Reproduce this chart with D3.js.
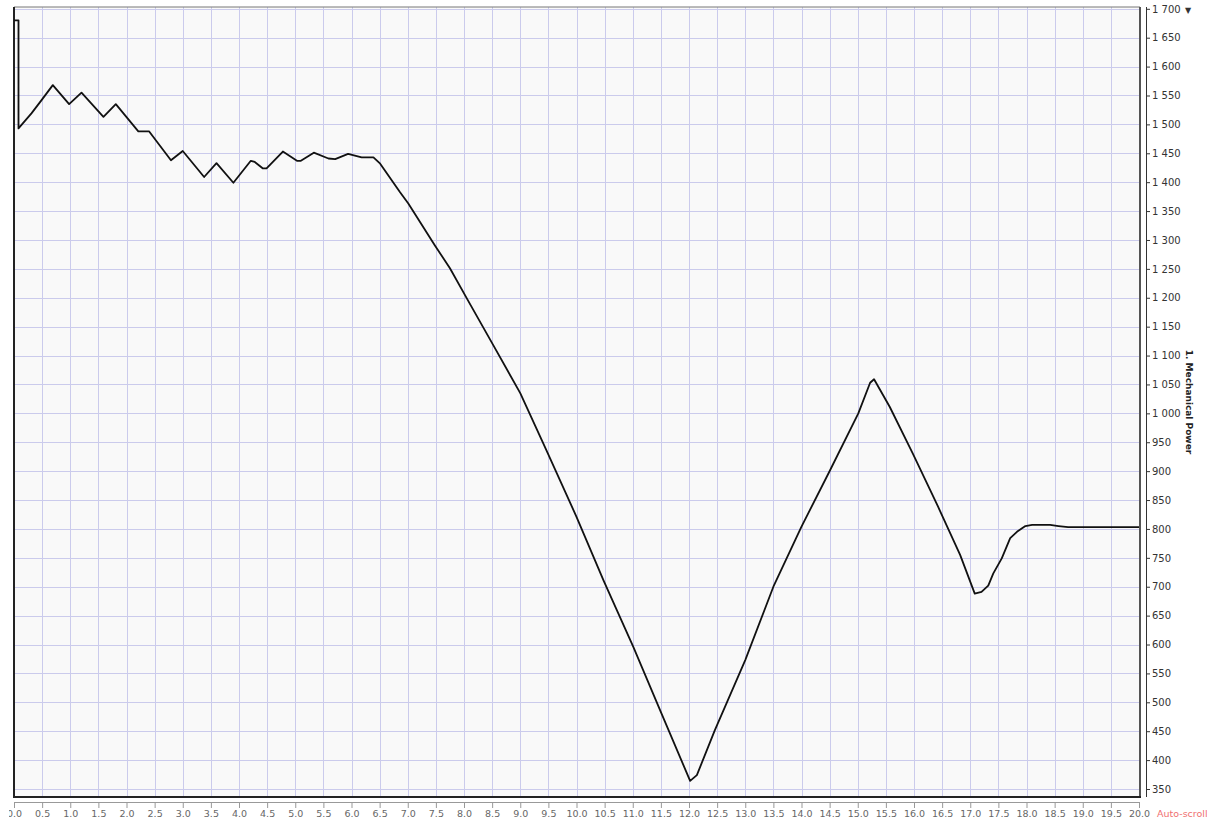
<!DOCTYPE html>
<html>
<head>
<meta charset="utf-8">
<script src="https://cdn.jsdelivr.net/npm/d3@7"></script>
<style>
  body { margin: 0; background: #fff; }
  svg { display: block; font-family: "DejaVu Sans", Verdana, sans-serif; }
</style>
</head>
<body>
<div id="chart"></div>
<script>
// time (s) and mechanical power readings
const times = [0, 0.08, 0.08, 0.31, 0.49, 0.69, 0.98, 1.20, 1.59, 1.81, 2.21, 2.40, 2.79, 3.00,
  3.38, 3.60, 3.90, 4.21, 4.28, 4.42, 4.49, 4.78, 5.03, 5.10, 5.33, 5.59, 5.71, 5.94, 6.18, 6.39,
  6.51, 6.86, 7.01, 7.48, 7.75, 8.05, 8.52, 9.00, 9.47, 10.00, 10.48, 11.01, 11.51, 12.02, 12.14,
  12.46, 13.00, 13.50, 14.00, 14.51, 15.01, 15.22, 15.29, 15.57, 15.99, 16.43, 16.82, 17.08, 17.20,
  17.32, 17.41, 17.56, 17.71, 17.83, 17.98, 18.10, 18.42, 18.57, 18.74, 20.0];
const power = [1680, 1680, 1493, 1519, 1542, 1568, 1535, 1555, 1513, 1535, 1488, 1488, 1438, 1454,
  1409, 1433, 1399, 1437, 1435, 1424, 1424, 1453, 1437, 1437, 1451, 1441, 1440, 1449, 1443, 1443,
  1432, 1383, 1363, 1291, 1251, 1199, 1118, 1035, 935, 821, 711, 596, 481, 364, 374,
  452, 573, 700, 804, 902, 1000, 1053, 1059, 1011, 928, 838, 755, 688, 691,
  702, 723, 749, 784, 795, 805, 807, 807, 805, 803, 803];
const xTicks = d3.range(0, 20.01, 0.5);
const yTicks = d3.range(350, 1701, 50);

const width = 1207, height = 821;
const plot = { left: 14, right: 1140, top: 7, bottom: 797 };

const svg = d3.select('#chart').append('svg')
    .attr('width', width)
    .attr('height', height);

const x = d3.scaleLinear().domain([0, 20]).range([14, 1139]);
const y = d3.scaleLinear().domain([350, 1700]).range([789, 8.8]);

// plot background
svg.append('rect')
    .attr('x', plot.left).attr('y', plot.top)
    .attr('width', plot.right - plot.left).attr('height', plot.bottom - plot.top)
    .attr('fill', '#f9f9f9');

// grid
svg.append('g').selectAll('line')
    .data(xTicks.filter(d => d > 0 && d < 20))
    .enter().append('line')
    .attr('x1', d => Math.round(x(d)) + 0.5).attr('x2', d => Math.round(x(d)) + 0.5)
    .attr('y1', plot.top).attr('y2', plot.bottom)
    .attr('stroke', '#cbcbec').attr('stroke-width', 1);

svg.append('g').selectAll('line')
    .data(yTicks)
    .enter().append('line')
    .attr('x1', plot.left).attr('x2', plot.right)
    .attr('y1', d => Math.round(y(d)) + 0.5).attr('y2', d => Math.round(y(d)) + 0.5)
    .attr('stroke', '#cbcbec').attr('stroke-width', 1);

// borders
svg.append('line').attr('x1', plot.left).attr('x2', plot.right)
    .attr('y1', plot.top).attr('y2', plot.top).attr('stroke', '#777').attr('stroke-width', 1);
svg.append('line').attr('x1', plot.right).attr('x2', plot.right)
    .attr('y1', plot.top).attr('y2', plot.bottom).attr('stroke', '#555').attr('stroke-width', 2);
svg.append('line').attr('x1', plot.left).attr('x2', plot.left)
    .attr('y1', plot.top).attr('y2', plot.bottom + 1).attr('stroke', '#222').attr('stroke-width', 2);
svg.append('line').attr('x1', plot.left).attr('x2', plot.right + 1)
    .attr('y1', plot.bottom).attr('y2', plot.bottom).attr('stroke', '#222').attr('stroke-width', 2);

// trace
const line = d3.line()
    .x((d, i) => x(times[i]))
    .y(d => y(d));

svg.append('path')
    .datum(power)
    .attr('d', line)
    .attr('fill', 'none')
    .attr('stroke', '#111')
    .attr('stroke-width', 1.8)
    .attr('stroke-linejoin', 'round');

// right axis
const fmt = d3.formatLocale({ decimal: '.', thousands: '\u00a0', grouping: [3], currency: ['', ''] }).format(',');
const yAxis = svg.append('g')
    .attr('transform', 'translate(1146,0)')
    .call(d3.axisRight(y).tickValues(yTicks).tickSize(4).tickPadding(2).tickFormat(fmt));
yAxis.select('.domain').attr('d', 'M0.5,' + plot.top + 'V' + plot.bottom).attr('stroke', '#333');
yAxis.selectAll('.tick line').attr('stroke', '#333');
yAxis.selectAll('text').attr('font-size', 10).attr('fill', '#333')
    .attr('font-family', '"DejaVu Sans", Verdana, sans-serif');

svg.append('text')
    .attr('x', 1185).attr('y', 13)
    .attr('font-size', 8).attr('fill', '#333')
    .text('\u25BC');

svg.append('text')
    .attr('transform', 'translate(1186,402) rotate(90)')
    .attr('text-anchor', 'middle')
    .attr('font-size', 9)
    .attr('font-weight', 'bold')
    .attr('fill', '#222')
    .text('1. Mechanical Power');

// bottom axis (left edge clipped like the original widget)
svg.append('clipPath').attr('id', 'xclip')
    .append('rect').attr('x', 9).attr('y', 790).attr('width', 1144).attr('height', 31);

const xAxis = svg.append('g')
    .attr('clip-path', 'url(#xclip)')
  .append('g')
    .attr('transform', 'translate(0,802)')
    .call(d3.axisBottom(x).tickValues(xTicks).tickSize(6).tickPadding(2).tickFormat(d3.format('.1f')));
xAxis.select('.domain').attr('d', 'M14,0.5H1139').attr('stroke', '#999');
xAxis.selectAll('.tick line').attr('stroke', '#999');
xAxis.selectAll('text').attr('font-size', 9.5).attr('fill', '#666')
    .attr('font-family', '"DejaVu Sans", Verdana, sans-serif');

svg.append('text')
    .attr('x', 1157).attr('y', 817)
    .attr('font-size', 9.5)
    .attr('fill', '#f07070')
    .text('Auto-scroll');
</script>
</body>
</html>
